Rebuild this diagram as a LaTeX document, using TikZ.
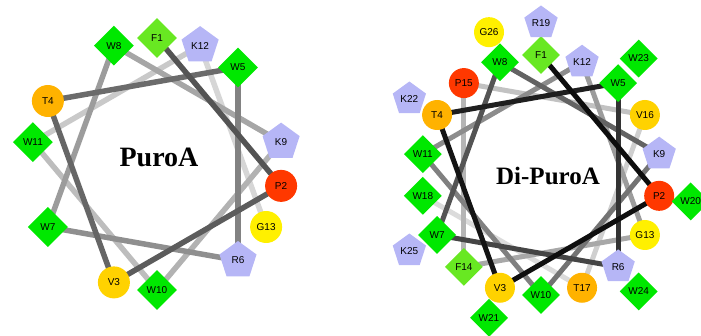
\documentclass[tikz,border=0pt]{standalone}
\usepackage{fontspec}
\setmainfont{Liberation Serif}
\setsansfont{Liberation Sans}
\usetikzlibrary{shapes.geometric, calc, backgrounds}

\definecolor{trp}{RGB}{0,232,0}
\definecolor{phe}{RGB}{104,232,34}
\definecolor{lys}{RGB}{182,182,246}
\definecolor{pro}{RGB}{255,56,0}
\definecolor{thr}{RGB}{255,178,0}
\definecolor{val}{RGB}{255,210,0}
\definecolor{gly}{RGB}{255,240,0}

\begin{document}
\begin{tikzpicture}[
        x=1pt, y=1pt,
        every node/.style={font=\sffamily\fontsize{10}{12}\selectfont},
        hphob/.style={diamond, minimum size=#1, inner sep=0pt},
        hphob/.default=40pt,
        hphil/.style={circle, minimum size=#1, inner sep=0pt},
        hphil/.default=32pt,
        charged/.style={regular polygon, regular polygon sides=5,
            minimum size=#1, inner sep=0pt},
        charged/.default=39pt,
        link/.style={line width=#1},
        link/.default=5.5pt,
        title/.style={font=\rmfamily\bfseries\fontsize{28}{30}\selectfont},
    ]
    \useasboundingbox (0,0) rectangle (701,336);

    % PuroA
    \coordinate (L) at (157,172);
    \node (l1)  [hphob, fill=phe]   at ($(L)+(90:126)$)   {F1};
    \node (l2)  [hphil, fill=pro]   at ($(L)+(-10:126)$)  {P2};
    \node (l3)  [hphil, fill=val]   at ($(L)+(-110:126)$) {V3};
    \node (l4)  [hphil, fill=thr]   at ($(L)+(150:126)$)  {T4};
    \node (l5)  [hphob, fill=trp]   at ($(L)+(50:126)$)   {W5};
    \node (l6)  [charged, fill=lys] at ($(L)+(-50:126)$)  {R6};
    \node (l7)  [hphob, fill=trp]   at ($(L)+(210:126)$)  {W7};
    \node (l8)  [hphob, fill=trp]   at ($(L)+(110:126)$)  {W8};
    \node (l9)  [charged, fill=lys] at ($(L)+(10:126)$)   {K9};
    \node (l10) [hphob, fill=trp]   at ($(L)+(-90:126)$)  {W10};
    \node (l11) [hphob, fill=trp]   at ($(L)+(170:126)$)  {W11};
    \node (l12) [charged, fill=lys] at ($(L)+(70:126)$)   {K12};
    \node (l13) [hphil, fill=gly]   at ($(L)+(-30:126)$)  {G13};
    \node (lname) [title] at (159,179) {PuroA};

    % Di-PuroA
    \coordinate (R) at (541,161);
    \node (r1)  [hphob=38pt, fill=phe]   at ($(R)+(90:120)$)   {F1};
    \node (r2)  [hphil=30pt, fill=pro]   at ($(R)+(-10:120)$)  {P2};
    \node (r3)  [hphil=30pt, fill=val]   at ($(R)+(-110:120)$) {V3};
    \node (r4)  [hphil=30pt, fill=thr]   at ($(R)+(150:120)$)  {T4};
    \node (r5)  [hphob=38pt, fill=trp]   at ($(R)+(50:120)$)   {W5};
    \node (r6)  [charged=35pt, fill=lys] at ($(R)+(-50:120)$)  {R6};
    \node (r7)  [hphob=38pt, fill=trp]   at ($(R)+(210:120)$)  {W7};
    \node (r8)  [hphob=38pt, fill=trp]   at ($(R)+(110:120)$)  {W8};
    \node (r9)  [charged=35pt, fill=lys] at ($(R)+(10:120)$)   {K9};
    \node (r10) [hphob=38pt, fill=trp]   at ($(R)+(-90:120)$)  {W10};
    \node (r11) [hphob=38pt, fill=trp]   at ($(R)+(170:120)$)  {W11};
    \node (r12) [charged=35pt, fill=lys] at ($(R)+(70:120)$)   {K12};
    \node (r13) [hphil=30pt, fill=gly]   at ($(R)+(-30:120)$)  {G13};
    \node (r14) [hphob=38pt, fill=phe]   at ($(R)+(-130:120)$) {F14};
    \node (r15) [hphil=30pt, fill=pro]   at ($(R)+(130:120)$)  {P15};
    \node (r16) [hphil=30pt, fill=val]   at ($(R)+(30:120)$)   {V16};
    \node (r17) [hphil=30pt, fill=thr]   at ($(R)+(-70:120)$)  {T17};
    \node (r18) [hphob=38pt, fill=trp]   at ($(R)+(-170:120)$) {W18};
    \node (r19) [charged=35pt, fill=lys] at ($(R)+(90:152)$)   {R19};
    \node (r20) [hphob=38pt, fill=trp]   at ($(R)+(-10:152)$)  {W20};
    \node (r21) [hphob=38pt, fill=trp]   at ($(R)+(-110:152)$) {W21};
    \node (r22) [charged=35pt, fill=lys] at ($(R)+(150:152)$)  {K22};
    \node (r23) [hphob=38pt, fill=trp]   at ($(R)+(50:152)$)   {W23};
    \node (r24) [hphob=38pt, fill=trp]   at ($(R)+(-50:152)$)  {W24};
    \node (r25) [charged=35pt, fill=lys] at ($(R)+(210:152)$)  {K25};
    \node (r26) [hphil=30pt, fill=gly]   at ($(R)+(110:152)$)  {G26};
    \node (rname) [title, font=\rmfamily\bfseries\fontsize{25}{27}\selectfont]
        at (548,160) {Di-PuroA};

    \begin{pgfonlayer}{background}
        % light ones first, dark ones on top
        \draw [link, black!16] (l12.center) -- (l13.center);
        \draw [link, black!21] (l11.center) -- (l12.center);
        \draw [link, black!26] (l10.center) -- (l11.center);
        \draw [link, black!30] (l9.center)  -- (l10.center);
        \draw [link, black!35] (l8.center)  -- (l9.center);
        \draw [link, black!39] (l7.center)  -- (l8.center);
        \draw [link, black!44] (l6.center)  -- (l7.center);
        \draw [link, black!49] (l5.center)  -- (l6.center);
        \draw [link, black!58] (l4.center)  -- (l5.center);
        \draw [link, black!60] (l3.center)  -- (l4.center);
        \draw [link, black!64] (l2.center)  -- (l3.center);
        \draw [link, black!67] (l1.center)  -- (l2.center);

        \draw [link=5pt, black!14] (r17.center) -- (r18.center);
        \draw [link=5pt, black!19] (r16.center) -- (r17.center);
        \draw [link=5pt, black!24] (r15.center) -- (r16.center);
        \draw [link=5pt, black!29] (r14.center) -- (r15.center);
        \draw [link=5pt, black!34] (r13.center) -- (r14.center);
        \draw [link=5pt, black!39] (r12.center) -- (r13.center);
        \draw [link=5pt, black!45] (r11.center) -- (r12.center);
        \draw [link=5pt, black!50] (r10.center) -- (r11.center);
        \draw [link=5pt, black!55] (r9.center)  -- (r10.center);
        \draw [link=5pt, black!61] (r8.center)  -- (r9.center);
        \draw [link=5pt, black!67] (r7.center)  -- (r8.center);
        \draw [link=5pt, black!73] (r6.center)  -- (r7.center);
        \draw [link=5pt, black!80] (r5.center)  -- (r6.center);
        \draw [link=5pt, black!88] (r4.center)  -- (r5.center);
        \draw [link=5pt, black!92] (r3.center)  -- (r4.center);
        \draw [link=5pt, black!94] (r2.center)  -- (r3.center);
        \draw [link=5pt, black!95] (r1.center)  -- (r2.center);
    \end{pgfonlayer}
\end{tikzpicture}
\end{document}
